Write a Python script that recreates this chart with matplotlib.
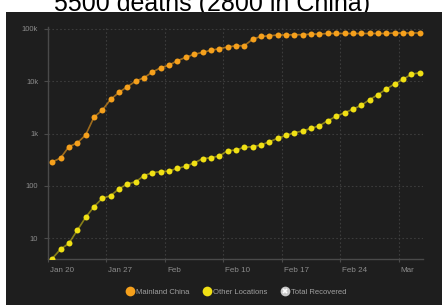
import pandas as pd
import matplotlib
matplotlib.use('Agg')
from matplotlib import pyplot as plt
from matplotlib.lines import Line2D
from matplotlib.legend_handler import HandlerTuple
from matplotlib.transforms import ScaledTranslation

# daily confirmed cases, Jan 20 .. Mar 4
dates = pd.date_range('2020-01-20 12:00', periods=45, freq='D')
mainland_china = [
    286, 340, 560, 660, 933, 2040, 2800, 4470, 6100, 7810,
    10000, 11600, 14900, 18000, 20200, 24500, 28400, 32400, 35400, 38700,
    41500, 44700, 47300, 47300, 63000, 71000, 73300, 75800, 76000, 76800,
    76800, 79000, 79000, 81000, 81000, 81000, 81000, 81000, 81000, 81000,
    81000, 83000, 83000, 83000, 83000,
]
other_locations = [
    4.1, 6.2, 8.0, 14.2, 25, 40, 58, 65, 88, 109,
    120, 157, 179, 188, 192, 217, 237, 274, 331, 345,
    372, 469, 484, 545, 560, 603, 697, 809, 925, 1035,
    1116, 1256, 1409, 1755, 2130, 2495, 2896, 3452, 4420, 5500,
    7060, 8810, 10800, 13500, 14450,
]
tick_dates = pd.to_datetime(['2020-01-20', '2020-01-27', '2020-02-03', '2020-02-10',
                             '2020-02-17', '2020-02-24', '2020-03-02'])
tick_labels = ['Jan 20', 'Jan 27', 'Feb', 'Feb 10', 'Feb 17', 'Feb 24', 'Mar']
y_ticks = [10, 100, 1000, 10000, 100000]
y_labels = ['10', '100', '1k', '10k', '100k']

W, H = 442, 306
BG = '#1e1e1e'
ORANGE = '#f5a01c'
YELLOW = '#f0e014'
LABEL = '#8c8c8c'

plt.rcParams['font.family'] = ['Liberation Sans', 'DejaVu Sans']
fig = plt.figure(figsize=(W / 100, H / 100), dpi=100)
fig.patch.set_facecolor('white')

# cropped title behind the dark panel
fig.text(212 / W, 1 - 10.5 / H, '5500 deaths (2800 in China)', ha='center',
         va='baseline', fontsize=18, color='black', zorder=-1)

bg = fig.add_axes([6 / W, 1 / H, 436 / W, 293 / H])
bg.set_facecolor(BG)
bg.set_xticks([])
bg.set_yticks([])
for s in bg.spines.values():
    s.set_visible(False)

ax = fig.add_axes([48 / W, (H - 259) / H, 375 / W, 232 / H])
ax.set_facecolor(BG)
ax.plot(dates, mainland_china, color=ORANGE, lw=1.2, alpha=0.6, zorder=2)
ax.plot(dates, mainland_china, ls='none', marker='o', ms=4.3, color=ORANGE, mec='none', zorder=3)
ax.plot(dates, other_locations, color=YELLOW, lw=1.2, alpha=0.5, zorder=2)
ax.plot(dates, other_locations, ls='none', marker='o', ms=4.3, color=YELLOW, mec='none', zorder=3)

ax.set_yscale('log')
ax.set_ylim(4.03, 107700)
ax.set_xlim(pd.Timestamp('2020-01-20 00:00'), pd.Timestamp('2020-03-04 21:30'))
ax.set_yticks(y_ticks)
ax.set_yticklabels(y_labels)
ax.yaxis.set_minor_locator(matplotlib.ticker.NullLocator())
ax.set_xticks(tick_dates)
ax.set_xticklabels(tick_labels)

ax.grid(True, ls=(0, (1.5, 2)), color='#3c3c3c', lw=0.8)
ax.set_axisbelow(True)
for s in ['top', 'right']:
    ax.spines[s].set_visible(False)
for s in ['left', 'bottom']:
    ax.spines[s].set_color('#4a4a4a')
    ax.spines[s].set_linewidth(1.0)
ax.tick_params(axis='y', colors='#4a4a4a', labelcolor=LABEL, length=3, width=0.8,
               pad=4, labelsize=5.5)
ax.tick_params(axis='x', colors='#4a4a4a', labelcolor=LABEL, length=2.5, width=0.8,
               pad=3, labelsize=5.8)
off = ScaledTranslation(2 / 100, 0, fig.dpi_scale_trans)
for lab in ax.get_xticklabels():
    lab.set_ha('left')
    lab.set_transform(lab.get_transform() + off)

handles = [
    Line2D([], [], ls='none', marker='o', ms=7, color=ORANGE, mec='none'),
    Line2D([], [], ls='none', marker='o', ms=7, color=YELLOW, mec='none'),
    (Line2D([], [], ls='none', marker='o', ms=7, color='#c8c8c8', mec='none'),
     Line2D([], [], ls='none', marker='x', ms=3.2, color='white', mew=1.2)),
]
fig.legend(handles, ['Mainland China', 'Other Locations', 'Total Recovered'],
           handler_map={tuple: HandlerTuple(ndivide=1)},
           loc='center', bbox_to_anchor=(236 / W, 1 - 292 / H), ncol=3, frameon=False,
           fontsize=5.5, labelcolor='#a0a0a0', handlelength=1.0, handletextpad=0.3,
           columnspacing=1.8)

fig.savefig('out.png', dpi=100, facecolor='white')
